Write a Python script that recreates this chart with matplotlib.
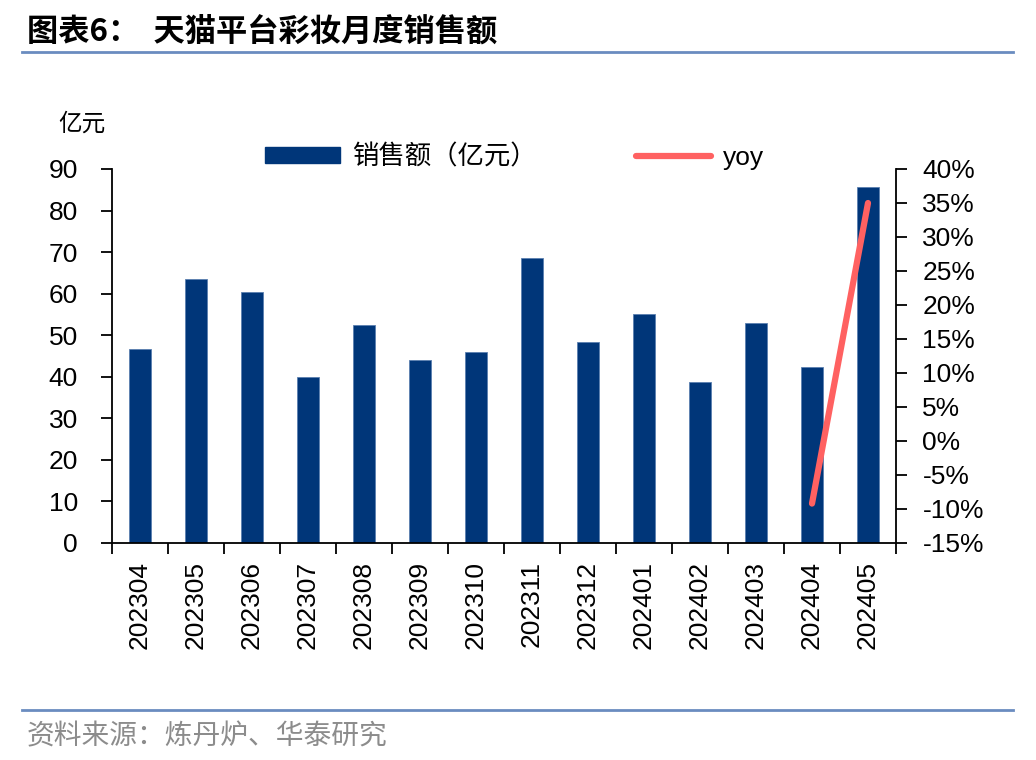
import numpy as np
import matplotlib
matplotlib.use("Agg")
import matplotlib.pyplot as plt
from matplotlib.lines import Line2D
from matplotlib.patches import Patch

plt.rcParams['font.family'] = ['Liberation Sans', 'Noto Sans CJK SC']

months = ["202304", "202305", "202306", "202307", "202308", "202309", "202310",
          "202311", "202312", "202401", "202402", "202403", "202404", "202405"]
sales = [46.7, 63.5, 60.3, 39.9, 52.4, 44.0, 45.9, 68.7, 48.4, 55.0, 38.7, 52.9, 42.3, 85.7]
yoy = [np.nan] * 12 + [-9.2, 35.0]

title = "图表6：  天猫平台彩妆月度销售额"
source = "资料来源：炼丹炉、华泰研究"
bar_label = "销售额（亿元）"
line_label = "yoy"
unit_label = "亿元"

BAR_C = "#003679"
LINE_C = "#FF6161"
RULE_C = "#6A8CC0"
FS = 19

fig = plt.figure(figsize=(10.36, 7.6), dpi=100)
ax = fig.add_axes([112/1036, 1-543/760, (896-112)/1036, (543-169)/760])
x = np.arange(len(months))
ax.bar(x, sales, width=0.4, color=BAR_C, edgecolor="#5A7FB0", linewidth=0.6, zorder=2)
ax.set_xlim(-0.5, len(months) - 0.5)
ax.set_ylim(0, 90)
ax.set_yticks(np.arange(0, 91, 10))
ax.set_xticks(x)
ax.set_xticklabels(months, rotation=90, fontsize=FS)
ax.set_xticks(np.arange(-0.5, len(months), 1), minor=True)
ax.tick_params(axis='x', which='major', length=0, pad=13)
ax.tick_params(axis='x', which='minor', length=8, width=1.3, direction='out')
ax.tick_params(axis='y', length=8, width=1.3, direction='out', labelsize=FS, pad=16.5)
for s in ['top', 'right']:
    ax.spines[s].set_visible(False)
ax.spines['left'].set_linewidth(1.3)
ax.spines['bottom'].set_linewidth(1.3)

ax2 = ax.twinx()
ax2.plot(x, yoy, color=LINE_C, linewidth=4.5, solid_capstyle='round', zorder=3)
ax2.set_ylim(-15, 40)
ax2.set_yticks(np.arange(-15, 41, 5))
ax2.set_yticklabels([f"{v}%" for v in range(-15, 41, 5)])
ax2.tick_params(axis='y', length=8, width=1.3, direction='out', labelsize=FS, pad=11)
for s in ['top', 'left', 'bottom']:
    ax2.spines[s].set_visible(False)
ax2.spines['right'].set_linewidth(1.3)

handles = [Patch(facecolor=BAR_C, edgecolor=BAR_C),
           Line2D([0], [0], color=LINE_C, linewidth=4.5, solid_capstyle='round')]
fig.legend(handles, [bar_label, line_label], loc='center left',
           bbox_to_anchor=(265/1036, 1-157/760), ncol=2, frameon=False,
           fontsize=FS, handlelength=2.85, handleheight=0.55, handletextpad=0.45,
           columnspacing=3.75, borderpad=0, borderaxespad=0)

fig.text(58/1036, 1-124/760, unit_label, fontsize=17, va='center', ha='left',
         family=['Noto Sans CJK SC'])

fig.text(27/1036, 1-32/760, title, fontsize=22.5, fontweight='bold', va='center',
         ha='left', family=['Noto Sans CJK SC'])
fig.add_artist(Line2D([22/1036, 1013/1036], [1-52/760, 1-52/760], color=RULE_C, linewidth=2))
fig.add_artist(Line2D([22/1036, 1013/1036], [1-710/760, 1-710/760], color=RULE_C, linewidth=2))
fig.text(27/1036, 1-736/760, source, fontsize=20, color="#8C8C8C", va='center',
         ha='left', family=['Noto Sans CJK SC'])

fig.savefig("out.png", dpi=100)
